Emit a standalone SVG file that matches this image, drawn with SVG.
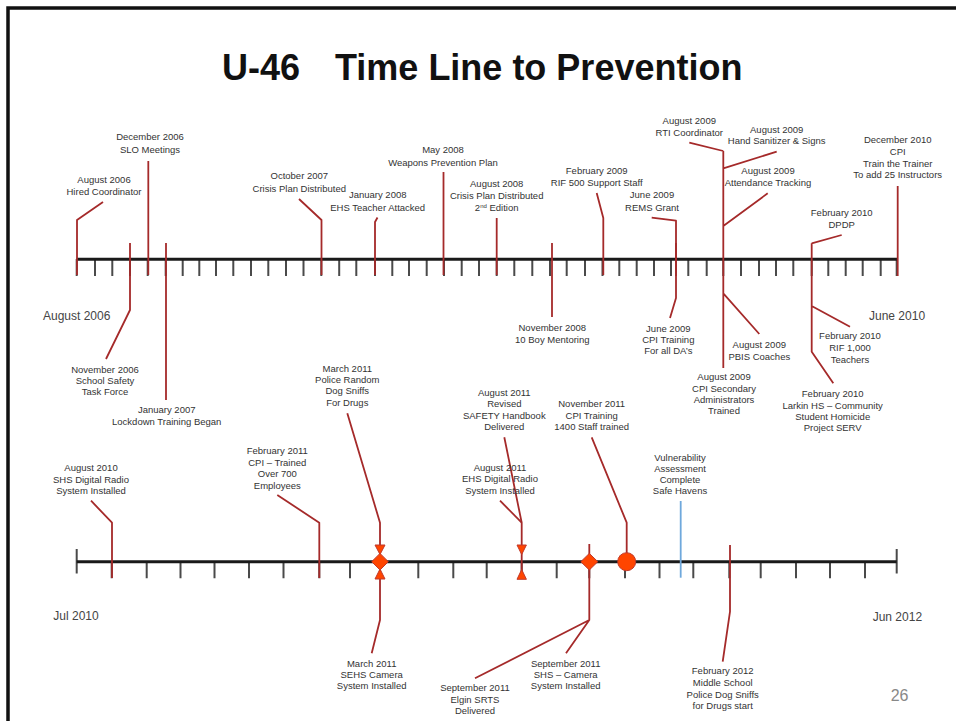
<svg xmlns="http://www.w3.org/2000/svg" width="956" height="721" viewBox="0 0 956 721">
<style>
.ax{stroke:#1a1a1a;stroke-width:3;fill:none}
.tk{stroke:#4a4a4a;stroke-width:2;fill:none}
.ev{stroke:#a52a2a;stroke-width:1.8;fill:none;stroke-linejoin:round}
.bl{stroke:#6fa8dc;stroke-width:1.8;fill:none}
.mk{fill:#ff4500;stroke:#c0392b;stroke-width:1}
.lb{font-family:"Liberation Sans",Arial,sans-serif;font-size:9.5px;fill:#333;text-anchor:middle}
.big{font-family:"Liberation Sans",Arial,sans-serif;font-size:12px;fill:#444}
.ttl{font-family:"Liberation Sans",Arial,sans-serif;font-size:36px;font-weight:bold;fill:#111}
</style>
<rect width="956" height="721" fill="#fff"/>
<path d="M8 721V8H956" stroke="#111" stroke-width="3.5" fill="none"/>
<g id="title">
<text class="ttl" x="222" y="80">U-46</text>
<text class="ttl" x="335" y="80">Time Line to Prevention</text>
</g>

<g id="axis-top">
<path class="tk" d="M76.7 259v17M95 259v17M112.3 259v17M130 259v17M147.7 259v17M165.7 259v17M182.7 259v17M199.3 259v17M216 259v17M233.3 259v17M251 259v17M268.3 259v17M286 259v17M303.5 259v17M321.3 259v17M339.2 259v17M356.3 259v17M375 259v17M392.3 259v17M409 259v17M426.7 259v17M444 259v17M461.7 259v17M479 259v17M496.7 259v17M514.3 259v17M532.3 259v17M550 259v17M566.7 259v17M585 259v17M602.5 259v17M619.3 259v17M636.7 259v17M654 259v17M671 259v17M688.3 259v17M706.7 259v17M723.3 259v17M741 259v17M759 259v17M776 259v17M793.3 259v17M811.7 259v17M828.3 259v17M845.7 259v17M862.7 259v17M880.7 259v17M896.7 259v17"/>
<path class="ax" d="M76.7 259.3H897"/>
<text class="big" x="43" y="319.5">August 2006</text>
<text class="big" x="869" y="319.8">June 2010</text>
</g>

<g id="axis-bottom">
<path class="tk" d="M111.7 561.7v16.6M146.7 561.7v16.6M180.5 561.7v16.6M214.5 561.7v16.6M249 561.7v16.6M283.5 561.7v16.6M319.3 561.7v16.6M350 561.7v16.6M380 561.7v16.6M418.3 561.7v16.6M453.3 561.7v16.6M486.7 561.7v16.6M521.7 561.7v16.6M556.7 561.7v16.6M589.3 561.7v16.6M625 561.7v16.6M659.5 561.7v16.6M693.3 561.7v16.6M729.3 561.7v16.6M760.7 561.7v16.6M796 561.7v16.6M830 561.7v16.6M865 561.7v16.6M76.7 549v24.5M896.7 549v24.5"/>
<path class="ax" d="M76.7 561.7H896.7"/>
<text class="big" x="53.3" y="620.3">Jul 2010</text>
<text class="big" x="872.7" y="621">Jun 2012</text>
</g>

<g id="connectors">
<path class="ev" d="M77 275V220L103 202"/>
<path class="ev" d="M130 243V310L106 359"/>
<path class="ev" d="M148.3 275V161"/>
<path class="ev" d="M166 243V400"/>
<path class="ev" d="M321.5 275V220L299 199"/>
<path class="ev" d="M375 275V222L377.5 217.5"/>
<path class="ev" d="M443.5 275V172"/>
<path class="ev" d="M496.7 275V218"/>
<path class="ev" d="M552 243V317"/>
<path class="ev" d="M603.3 275V218L596.7 193"/>
<path class="ev" d="M651.7 217.7L676 220.7V276"/>
<path class="ev" d="M676 243V298L670 318"/>
<path class="ev" d="M723.3 151V368M723.3 151L689.3 142.7M723.3 168.3L776.7 151.7M723.3 226L767.7 193.3M723.3 293.3L759.3 334"/>
<path class="ev" d="M811.7 243.3V351.7L833.3 383.3M811.7 243.3L841.7 235M811.7 306L850 326.7"/>
<path class="ev" d="M897.7 186V276"/>
<path class="ev" d="M112 578V522.7L91 500.7"/>
<path class="ev" d="M319.3 578V522.7L277.3 495"/>
<path class="ev" d="M347.3 413.3L380 522.7V545"/>
<path class="ev" d="M380 579V620L371.7 653.3"/>
<path class="ev" d="M504.3 437.3L521.7 522.7V579"/>
<path class="ev" d="M500 500.7L521.7 522.7"/>
<path class="ev" d="M589.3 544V620L475 678.3M589.3 620L566 653.3"/>
<path class="ev" d="M591.7 437.3L626.7 522.7V553"/>
<path class="bl" d="M680.7 501V577.7"/>
<path class="ev" d="M730 545V611.7L722.7 661.7"/>
</g>

<g id="markers">
<path class="mk" d="M375 545H385L380 554.5Z"/>
<path class="mk" d="M371.7 561.7L380 553.4L388.3 561.7L380 570Z"/>
<path class="mk" d="M380 569L375 579H385Z"/>
<path class="mk" d="M517 545H526.4L521.7 554.5Z"/>
<path class="mk" d="M521.7 569.5L517 579.3H526.4Z"/>
<path class="mk" d="M580.8 561.7L589.3 553.4L597.8 561.7L589.3 570Z"/>
<circle class="mk" cx="626.7" cy="561.7" r="9"/>
</g>

<g id="n-aug2006"><text class="lb" x="104" y="182.5">August 2006</text><text class="lb" x="104" y="194.5">Hired Coordinator</text></g>
<g id="n-nov2006"><text class="lb" x="105" y="372.7">November 2006</text><text class="lb" x="105" y="383.7">School Safety</text><text class="lb" x="105" y="394.7">Task Force</text></g>
<g id="n-dec2006"><text class="lb" x="150" y="140.4">December 2006</text><text class="lb" x="150" y="152.9">SLO Meetings</text></g>
<g id="n-jan2007"><text class="lb" x="166.7" y="413.4">January 2007</text><text class="lb" x="166.7" y="425.4">Lockdown Training Began</text></g>
<g id="n-oct2007"><text class="lb" x="299.3" y="179.4">October 2007</text><text class="lb" x="299.3" y="191.7">Crisis Plan Distributed</text></g>
<g id="n-jan2008"><text class="lb" x="377.7" y="198.4">January 2008</text><text class="lb" x="377.7" y="211.1">EHS Teacher Attacked</text></g>
<g id="n-may2008"><text class="lb" x="443" y="153.4">May 2008</text><text class="lb" x="443" y="165.7">Weapons Prevention Plan</text></g>
<g id="n-aug2008"><text class="lb" x="496.7" y="187.4">August 2008</text><text class="lb" x="496.7" y="199.4">Crisis Plan Distributed</text><text class="lb" x="496.7" y="211.4">2<tspan font-size="6" dy="-3.5">nd</tspan><tspan dy="3.5"> Edition</tspan></text></g>
<g id="n-nov2008"><text class="lb" x="552.3" y="331.4">November 2008</text><text class="lb" x="552.3" y="343.1">10 Boy Mentoring</text></g>
<g id="n-feb2009"><text class="lb" x="596.7" y="174.1">February 2009</text><text class="lb" x="596.7" y="186.1">RIF 500 Support Staff</text></g>
<g id="n-jun2009-rems"><text class="lb" x="652" y="198.4">June 2009</text><text class="lb" x="652" y="211.1">REMS Grant</text></g>
<g id="n-jun2009-cpi"><text class="lb" x="668.3" y="331.7">June 2009</text><text class="lb" x="668.3" y="343.1">CPI Training</text><text class="lb" x="668.3" y="354.4">For all DA’s</text></g>
<g id="n-aug2009-rti"><text class="lb" x="689.3" y="124.4">August 2009</text><text class="lb" x="689.3" y="136.1">RTI Coordinator</text></g>
<g id="n-aug2009-hand"><text class="lb" x="776.7" y="132.7">August 2009</text><text class="lb" x="776.7" y="144.4">Hand Sanitizer &amp; Signs</text></g>
<g id="n-aug2009-att"><text class="lb" x="768" y="174.1">August 2009</text><text class="lb" x="768" y="186.1">Attendance Tracking</text></g>
<g id="n-aug2009-pbis"><text class="lb" x="759.3" y="347.7">August 2009</text><text class="lb" x="759.3" y="360.1">PBIS Coaches</text></g>
<g id="n-aug2009-cpi"><text class="lb" x="724" y="380.1">August 2009</text><text class="lb" x="724" y="392.1">CPI Secondary</text><text class="lb" x="724" y="403.4">Administrators</text><text class="lb" x="724" y="414.4">Trained</text></g>
<g id="n-feb2010-dpdp"><text class="lb" x="841.7" y="216.1">February 2010</text><text class="lb" x="841.7" y="227.7">DPDP</text></g>
<g id="n-feb2010-rif"><text class="lb" x="850" y="339.4">February 2010</text><text class="lb" x="850" y="351.1">RIF 1,000</text><text class="lb" x="850" y="362.7">Teachers</text></g>
<g id="n-feb2010-larkin"><text class="lb" x="832.7" y="396.7">February 2010</text><text class="lb" x="832.7" y="408.7">Larkin HS – Community</text><text class="lb" x="832.7" y="420.1">Student Homicide</text><text class="lb" x="832.7" y="431.1">Project SERV</text></g>
<g id="n-dec2010"><text class="lb" x="897.7" y="143.4">December 2010</text><text class="lb" x="897.7" y="155.1">CPI</text><text class="lb" x="897.7" y="166.7">Train the Trainer</text><text class="lb" x="897.7" y="178.1">To add 25 Instructors</text></g>

<g id="n-aug2010"><text class="lb" x="91" y="470.7">August 2010</text><text class="lb" x="91" y="482.7">SHS Digital Radio</text><text class="lb" x="91" y="493.7">System Installed</text></g>
<g id="n-feb2011"><text class="lb" x="277.3" y="454.1">February 2011</text><text class="lb" x="277.3" y="466.1">CPI – Trained</text><text class="lb" x="277.3" y="477.4">Over 700</text><text class="lb" x="277.3" y="488.7">Employees</text></g>
<g id="n-mar2011-police"><text class="lb" x="347.3" y="371.7">March 2011</text><text class="lb" x="347.3" y="382.7">Police Random</text><text class="lb" x="347.3" y="394.1">Dog Sniffs</text><text class="lb" x="347.3" y="405.7">For Drugs</text></g>
<g id="n-mar2011-sehs"><text class="lb" x="371.7" y="666.7">March 2011</text><text class="lb" x="371.7" y="678.4">SEHS Camera</text><text class="lb" x="371.7" y="689.4">System Installed</text></g>
<g id="n-aug2011-handbook"><text class="lb" x="504.3" y="395.7">August 2011</text><text class="lb" x="504.3" y="407.4">Revised</text><text class="lb" x="504.3" y="419.1">SAFETY Handbook</text><text class="lb" x="504.3" y="430.4">Delivered</text></g>
<g id="n-aug2011-ehs"><text class="lb" x="500" y="470.7">August 2011</text><text class="lb" x="500" y="482.4">EHS Digital Radio</text><text class="lb" x="500" y="493.7">System Installed</text></g>
<g id="n-sep2011-elgin"><text class="lb" x="475" y="690.7">September 2011</text><text class="lb" x="475" y="702.7">Elgin SRTS</text><text class="lb" x="475" y="714.1">Delivered</text></g>
<g id="n-sep2011-shs"><text class="lb" x="565.7" y="666.7">September 2011</text><text class="lb" x="565.7" y="678.4">SHS – Camera</text><text class="lb" x="565.7" y="689.4">System Installed</text></g>
<g id="n-nov2011"><text class="lb" x="591.7" y="406.7">November 2011</text><text class="lb" x="591.7" y="419.1">CPI Training</text><text class="lb" x="591.7" y="430.4">1400 Staff trained</text></g>
<g id="n-vuln"><text class="lb" x="680" y="460.7">Vulnerability</text><text class="lb" x="680" y="471.7">Assessment</text><text class="lb" x="680" y="482.7">Complete</text><text class="lb" x="680" y="494.1">Safe Havens</text></g>
<g id="n-feb2012"><text class="lb" x="722.7" y="674.1">February 2012</text><text class="lb" x="722.7" y="686.1">Middle School</text><text class="lb" x="722.7" y="697.7">Police Dog Sniffs</text><text class="lb" x="722.7" y="709.1">for Drugs start</text></g>
<text x="890.7" y="700.7" font-family="Liberation Sans, Arial, sans-serif" font-size="16" fill="#888">26</text>
</svg>
